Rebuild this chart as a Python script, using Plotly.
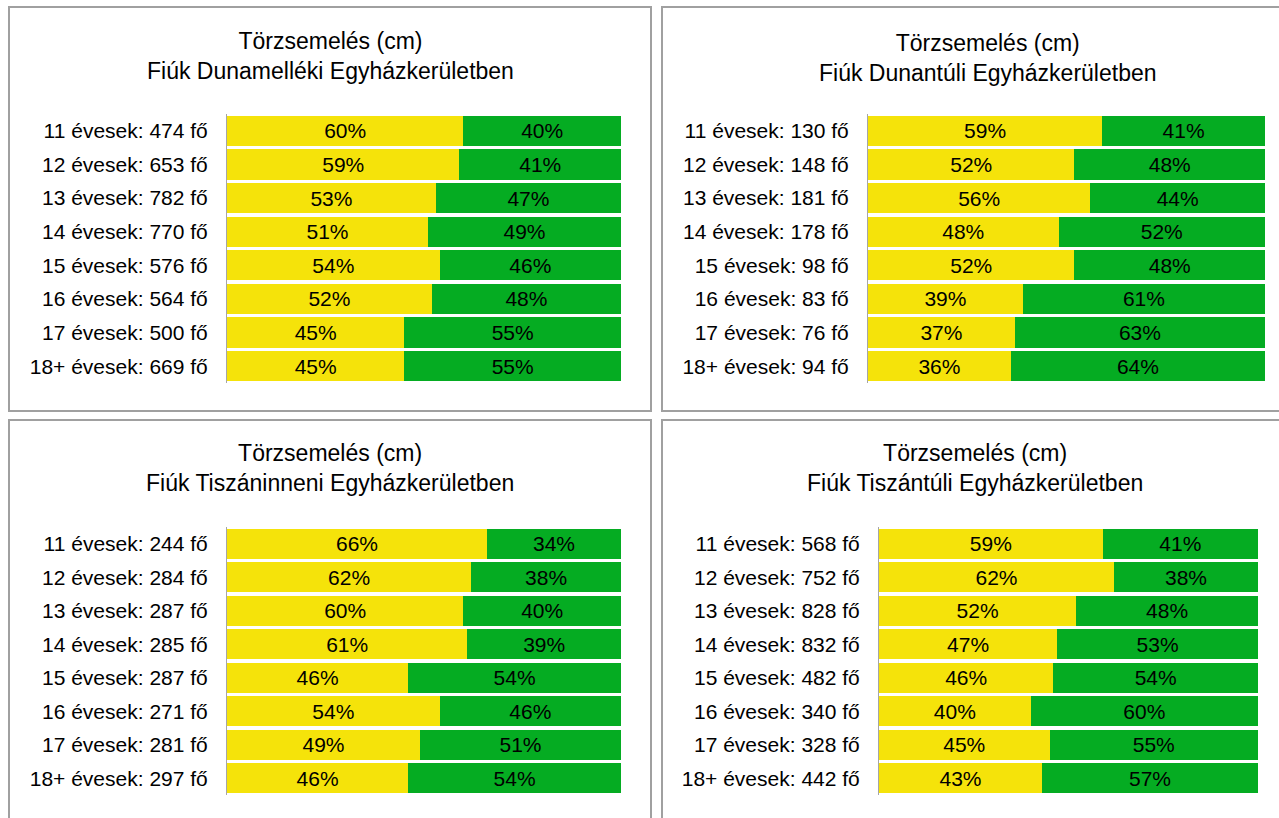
import plotly.graph_objects as go

W, H = 1279, 818

ages = ["11", "12", "13", "14", "15", "16", "17", "18+"]

# Dunamelléki
n_duna = [474, 653, 782, 770, 576, 564, 500, 669]
yes_duna = [60, 59, 53, 51, 54, 52, 45, 45]
no_duna = [40, 41, 47, 49, 46, 48, 55, 55]

# Dunántúli
n_dunantul = [130, 148, 181, 178, 98, 83, 76, 94]
yes_dunantul = [59, 52, 56, 48, 52, 39, 37, 36]
no_dunantul = [41, 48, 44, 52, 48, 61, 63, 64]

# Tiszáninneni
n_tiszainn = [244, 284, 287, 285, 287, 271, 281, 297]
yes_tiszainn = [66, 62, 60, 61, 46, 54, 49, 46]
no_tiszainn = [34, 38, 40, 39, 54, 46, 51, 54]

# Tiszántúli
n_tiszantul = [568, 752, 828, 832, 482, 340, 328, 442]
yes_tiszantul = [59, 62, 52, 47, 46, 40, 45, 43]
no_tiszantul = [41, 38, 48, 53, 54, 60, 55, 57]

YELLOW = "#f5e30a"
GREEN = "#05ac22"
FONT = "Liberation Sans, Arial, sans-serif"

# (name, counts, yes, no, bar px box, title centre px, panel border px)
panels = [
    ("Fiúk Dunamelléki Egyházkerületben", n_duna, yes_duna, no_duna,
     (227, 621, 114, 383), (330, 56), (9, 651, 7, 411)),
    ("Fiúk Dunantúli Egyházkerületben", n_dunantul, yes_dunantul, no_dunantul,
     (868, 1265, 114, 383), (988, 58), (662, 1295, 7, 411)),
    ("Fiúk Tiszáninneni Egyházkerületben", n_tiszainn, yes_tiszainn, no_tiszainn,
     (227, 621, 527, 795), (330, 468), (9, 651, 420, 835)),
    ("Fiúk Tiszántúli Egyházkerületben", n_tiszantul, yes_tiszantul, no_tiszantul,
     (879, 1258, 527, 795), (975, 468), (662, 1295, 420, 835)),
]

fig = go.Figure()
layout = {}
shapes, annotations = [], []

for i, (name, counts, yes, no, box, tc, border) in enumerate(panels, start=1):
    sfx = "" if i == 1 else str(i)
    labels = [f"{a} évesek: {n} fő" for a, n in zip(ages, counts)]
    for vals, col in [(yes, YELLOW), (no, GREEN)]:
        fig.add_trace(go.Bar(
            y=labels, x=vals, orientation="h",
            marker=dict(color=col, line=dict(width=0)),
            text=[f"{v}%" for v in vals], textposition="inside",
            insidetextanchor="middle", textangle=0, constraintext="none",
            textfont=dict(color="black", size=21, family=FONT),
            xaxis="x" + sfx, yaxis="y" + sfx,
            showlegend=False, hoverinfo="skip",
        ))
    x0, x1, y0, y1 = box
    layout["xaxis" + sfx] = dict(
        domain=[x0 / W, x1 / W], range=[0, 100], visible=False,
        anchor="y" + sfx, fixedrange=True,
    )
    layout["yaxis" + sfx] = dict(
        domain=[1 - y1 / H, 1 - y0 / H], anchor="x" + sfx,
        autorange="reversed", showgrid=False, zeroline=False,
        showline=True, linecolor="#a6a6a6", linewidth=1,
        ticks="", ticklabelstandoff=14,
        tickfont=dict(size=21, color="black", family=FONT),
    )
    bx0, bx1, by0, by1 = border
    shapes.append(dict(
        type="rect", xref="paper", yref="paper",
        x0=bx0 / W, x1=bx1 / W, y0=1 - by1 / H, y1=1 - by0 / H,
        line=dict(color="#a0a0a0", width=2), fillcolor="rgba(0,0,0,0)",
    ))
    annotations.append(dict(
        xref="paper", yref="paper", x=tc[0] / W, y=1 - tc[1] / H,
        xanchor="center", yanchor="middle", showarrow=False,
        text="Törzsemelés (cm)<br>" + name,
        font=dict(size=23, color="black", family=FONT),
    ))

fig.update_layout(
    **layout,
    barmode="stack", bargap=0.1,
    width=W, height=H,
    margin=dict(l=0, r=0, t=0, b=0),
    paper_bgcolor="white", plot_bgcolor="white",
    shapes=shapes, annotations=annotations,
    font=dict(family=FONT),
)

# drop the default page margin so the figure sits at the window's corner
fig.write_html(
    "out.html",
    config={"displayModeBar": False},
    post_script="document.body.style.margin='0';",
)
